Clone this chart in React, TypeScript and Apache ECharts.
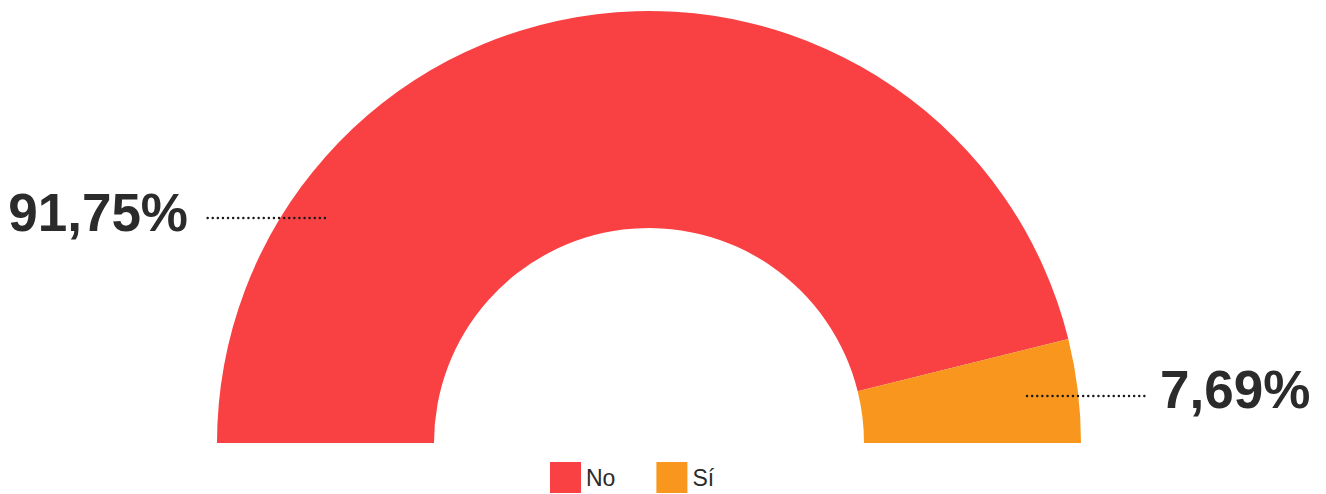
import React, { useEffect, useRef } from "react";
import * as echarts from "echarts";

const categories = ["No", "Sí"];
const values = [91.75, 7.69];
const colors = ["#F94144", "#F8961E"];

const W = 1326;
const H = 494;
const CX = 649;
const CY = 443;

function fmt(v: number) {
  return v.toFixed(2).replace(".", ",") + "%";
}

export default function App() {
  const ref = useRef<HTMLDivElement>(null);
  useEffect(() => {
    document.body.style.margin = "0";
    const chart = echarts.init(ref.current!, null, { renderer: "svg" });
    const data = categories.map((name, i) => ({
      name,
      value: values[i],
      itemStyle: { color: colors[i] },
    }));
    const labelData = categories.map((name, i) => ({
      name,
      value: values[i],
    }));
    const base = {
      type: "pie",
      center: [CX, CY],
      radius: [215, 432],
      startAngle: 180,
      endAngle: 0,
      avoidLabelOverlap: false,
      emphasis: { disabled: true },
    };
    chart.setOption({
      animation: false,
      color: colors,
      legend: {
        bottom: 1,
        left: 550,
        padding: 0,
        itemWidth: 31,
        itemHeight: 31,
        itemGap: 41,
        icon: "rect",
        textStyle: {
          fontFamily: "Liberation Sans",
          fontSize: 23,
          color: "#2b2b2b",
        },
        data: categories,
      },
      series: [
        {
          ...base,
          z: 2,
          data,
          label: { show: false },
          labelLine: { show: false },
        },
        {
          ...base,
          z: 5,
          silent: true,
          data: labelData,
          itemStyle: { color: "rgba(0,0,0,0)" },
          label: {
            show: true,
            position: "outside",
            formatter: (p: any) => fmt(p.value),
            fontFamily: "Liberation Sans",
            fontWeight: "bold",
            fontSize: 53,
            color: "#2b2b2b",
          },
          labelLine: {
            show: true,
            lineStyle: { type: [0.1, 5], cap: "round", width: 2.4, color: "#1a1a1a" },
          },
          labelLayout: (params: any) => {
            if (params.dataIndex === 0) {
              return {
                x: CX - 461,
                y: CY - 231,
                align: "right",
                verticalAlign: "middle",
                labelLinePoints: [
                  [CX - 324, CY - 225],
                  [CX - 446, CY - 225],
                ],
              };
            }
            return {
              x: CX + 511,
              y: CY - 54,
              align: "left",
              verticalAlign: "middle",
              labelLinePoints: [
                [CX + 378, CY - 47],
                [CX + 498, CY - 47],
              ],
            };
          },
        },
      ],
    });
    return () => chart.dispose();
  }, []);
  return <div ref={ref} style={{ width: W, height: H }} />;
}
